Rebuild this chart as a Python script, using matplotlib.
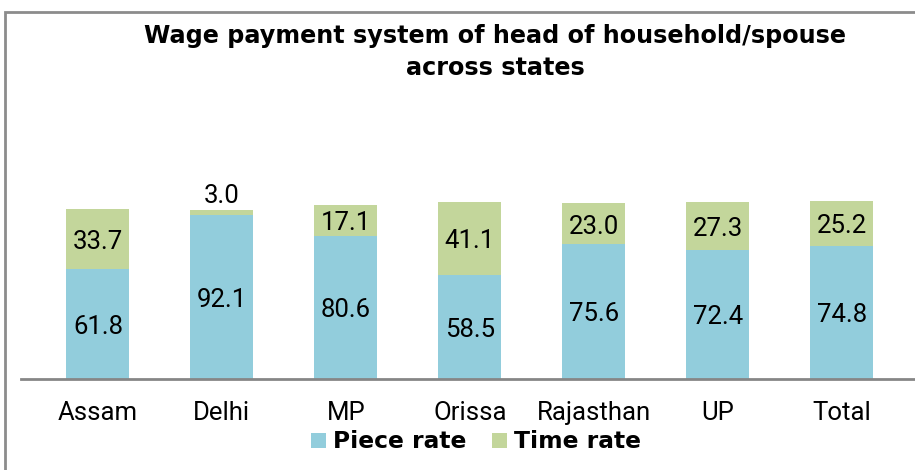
import matplotlib.pyplot as plt
from matplotlib.patches import Rectangle

states = ["Assam", "Delhi", "MP", "Orissa", "Rajasthan", "UP", "Total"]
piece_rate = [61.8, 92.1, 80.6, 58.5, 75.6, 72.4, 74.8]
time_rate = [33.7, 3.0, 17.1, 41.1, 23.0, 27.3, 25.2]

piece_color = "#92CDDC"
time_color = "#C3D69B"

fig = plt.figure(figsize=(9.15, 4.7), dpi=100)
ax = fig.add_axes([21 / 915, 1 - 379 / 470, 894 / 915, 178 / 470])

x = list(range(len(states)))
bars_p = ax.bar(x, piece_rate, width=0.51, color=piece_color, label="Piece rate")
bars_t = ax.bar(x, time_rate, width=0.51, bottom=piece_rate, color=time_color, label="Time rate")

lab_font = dict(family="Roboto", fontsize=18.5, color="black")
for i in x:
    ax.text(i, piece_rate[i] / 2 - 1.5, f"{piece_rate[i]:.1f}", ha="center", va="center", **lab_font)
    if time_rate[i] < 8:
        # small segment: label sits above the bar
        ax.text(i, piece_rate[i] + time_rate[i] + 1.0, f"{time_rate[i]:.1f}",
                ha="center", va="bottom", **lab_font)
    else:
        ax.text(i, piece_rate[i] + time_rate[i] / 2 - 1.5, f"{time_rate[i]:.1f}",
                ha="center", va="center", **lab_font)

ax.set_xlim(-0.62, 6.59)
ax.set_ylim(0, 100)
ax.set_yticks([])
ax.set_xticks(x)
ax.set_xticklabels(states, fontfamily="Roboto", fontsize=18.5)
ax.tick_params(axis="x", length=0, pad=16)
for s in ["top", "right", "left"]:
    ax.spines[s].set_visible(False)
ax.spines["bottom"].set_color("#868686")
ax.spines["bottom"].set_linewidth(2)

fig.text(0.541, 1 - 36 / 470, "Wage payment system of head of household/spouse",
         ha="center", va="center", fontsize=17.2, fontweight="bold", family="DejaVu Sans")
fig.text(0.541, 1 - 68 / 470, "across states",
         ha="center", va="center", fontsize=17.2, fontweight="bold", family="DejaVu Sans")

leg = fig.legend(handles=[bars_p, bars_t], loc="center", bbox_to_anchor=(476 / 915, 1 - 442 / 470),
                 ncol=2, frameon=False, handlelength=0.65, handleheight=0.65, handletextpad=0.3,
                 columnspacing=1.1, borderpad=0.1, prop=dict(family="DejaVu Sans", weight="bold", size=16.8))

# outer frame of the chart area
fig.patches.append(Rectangle((5 / 915, -0.1), 1.0, 1.1 - 12 / 470, transform=fig.transFigure,
                             fill=False, edgecolor="#8C8C8C", linewidth=2))

fig.savefig("out.png", dpi=100)
